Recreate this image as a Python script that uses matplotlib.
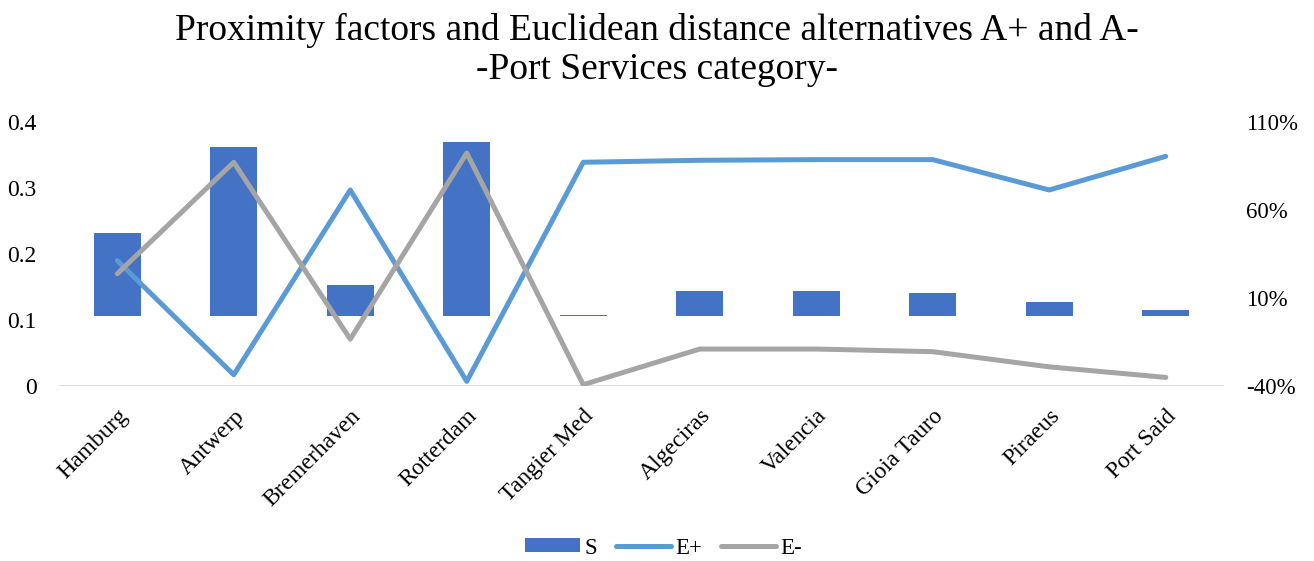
import numpy as np
import matplotlib
matplotlib.use("Agg")
import matplotlib.pyplot as plt
from matplotlib.ticker import FuncFormatter
from matplotlib.lines import Line2D
from matplotlib.patches import Patch

ports = ["Hamburg", "Antwerp", "Bremerhaven", "Rotterdam", "Tangier Med",
         "Algeciras", "Valencia", "Gioia Tauro", "Piraeus", "Port Said"]
s_values = [0.470, 0.956, 0.173, 0.984, 0.006, 0.139, 0.139, 0.129, 0.078, 0.032]
e_plus = [0.190, 0.017, 0.297, 0.007, 0.339, 0.342, 0.343, 0.343, 0.297, 0.348]
e_minus = [0.170, 0.339, 0.071, 0.353, 0.002, 0.056, 0.056, 0.052, 0.029, 0.013]

left_ticks = [0, 0.1, 0.2, 0.3, 0.4]
right_ticks = [-0.4, 0.1, 0.6, 1.1]

bar_color = "#4472C4"
eplus_color = "#5B9BD5"
eminus_color = "#A5A5A5"

plt.rcParams["font.family"] = ["Liberation Serif", "DejaVu Serif"]

fig = plt.figure(figsize=(13.14, 5.61), dpi=100)
W, H = 1314, 561
x0, x1, y0, y1 = 59, 1224, 122, 386
ax = fig.add_axes([x0 / W, 1 - y1 / H, (x1 - x0) / W, (y1 - y0) / H])

x = np.arange(len(ports))

# S bars on the percentage scale (right-hand axis)
ax.bar(x, s_values, width=0.4, color=bar_color, zorder=2)
ax.set_ylim(-0.4, 1.1)
ax.set_yticks(right_ticks)
ax.yaxis.set_major_formatter(FuncFormatter(lambda v, p: f"{v * 100:.0f}%"))
ax.set_xlim(-0.5, len(ports) - 0.5)

# distance lines on the 0-0.4 scale (left-hand axis)
ax2 = ax.twinx()
ax2.plot(x, e_plus, color=eplus_color, lw=3.6, solid_capstyle="round", zorder=3)
ax2.plot(x, e_minus, color=eminus_color, lw=3.6, solid_capstyle="round", zorder=3)
ax2.set_ylim(0, 0.4)
ax2.set_yticks(left_ticks)
ax2.set_yticklabels(["0", "0.1", "0.2", "0.3", "0.4"])
ax2.axhline(0, color="#D9D9D9", lw=1.2, zorder=1)

ax.yaxis.tick_right()
ax2.yaxis.tick_left()

for a in (ax, ax2):
    for sp in a.spines.values():
        sp.set_visible(False)
    a.tick_params(axis="y", length=0, colors="black")
ax.tick_params(axis="y", pad=16, labelsize=16.5)
ax2.tick_params(axis="y", pad=16, labelsize=17)

ax.set_xticks(x)
ax.set_xticklabels(ports, rotation=45, ha="right", va="top",
                   rotation_mode="anchor", fontsize=17)
ax.tick_params(axis="x", length=0, pad=14)

fig.text(0.5, 1 - 30 / H, "Proximity factors and Euclidean distance alternatives A+ and A-",
         ha="center", va="center", fontsize=27)
fig.text(0.5, 1 - 70 / H, "-Port Services category-",
         ha="center", va="center", fontsize=27)

handles = [Patch(facecolor=bar_color, edgecolor="none"),
           Line2D([0], [0], color=eplus_color, lw=3.6, solid_capstyle="round"),
           Line2D([0], [0], color=eminus_color, lw=3.6, solid_capstyle="round")]
fig.legend(handles, ["S", "E+", "E-"], loc="center", bbox_to_anchor=(0.505, 1 - 548 / H),
           ncol=3, frameon=False, fontsize=16.5, handlelength=2.4, handletextpad=0.2,
           columnspacing=0.8, handleheight=0.55)

fig.savefig("out.png", dpi=100)
